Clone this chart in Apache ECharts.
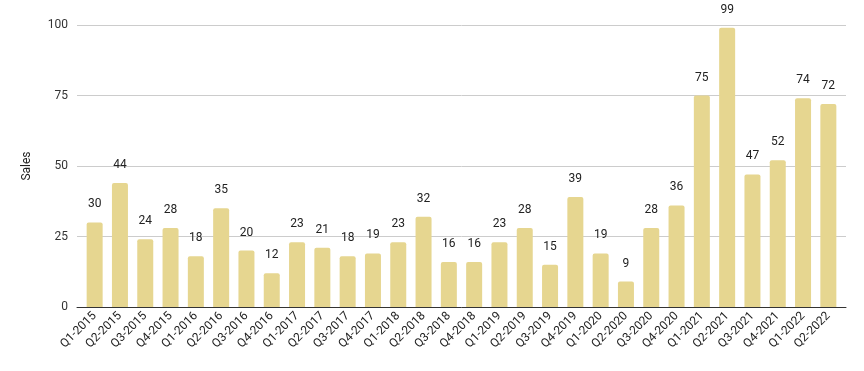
<!DOCTYPE html>
<html>
<head>
<meta charset="utf-8">
<script src="https://cdn.jsdelivr.net/npm/echarts@6/dist/echarts.min.js"></script>
<style>
  html, body { margin: 0; padding: 0; background: #fff; }
  #chart { width: 864px; height: 371px; }
</style>
</head>
<body>
<div id="chart"></div>
<script>
const quarters = [
  "Q1-2015", "Q2-2015", "Q3-2015", "Q4-2015",
  "Q1-2016", "Q2-2016", "Q3-2016", "Q4-2016",
  "Q1-2017", "Q2-2017", "Q3-2017", "Q4-2017",
  "Q1-2018", "Q2-2018", "Q3-2018", "Q4-2018",
  "Q1-2019", "Q2-2019", "Q3-2019", "Q4-2019",
  "Q1-2020", "Q2-2020", "Q3-2020", "Q4-2020",
  "Q1-2021", "Q2-2021", "Q3-2021", "Q4-2021",
  "Q1-2022", "Q2-2022"
];
const sales = [
  30, 44, 24, 28,
  18, 35, 20, 12,
  23, 21, 18, 19,
  23, 32, 16, 16,
  23, 28, 15, 39,
  19, 9, 28, 36,
  75, 99, 47, 52,
  74, 72
];
const yTicks = [0, 25, 50, 75, 100];

const chart = echarts.init(document.getElementById("chart"));

// grid 0 = gridlines + baseline (a bit wider), grid 1 = the bars
chart.setOption({
  animation: false,
  textStyle: { fontFamily: "Roboto" },
  grid: [
    { left: 77, right: 18, top: 25, bottom: 64 },
    { left: 82, right: 23, top: 25, bottom: 64 }
  ],
  xAxis: [
    {
      gridIndex: 0,
      type: "value",
      min: 0,
      max: 1,
      axisLine: { show: true, onZero: false, lineStyle: { color: "#333", width: 1 } },
      axisTick: { show: false },
      axisLabel: { show: false },
      splitLine: { show: false }
    },
    {
      gridIndex: 1,
      type: "category",
      data: quarters,
      axisLine: { show: false },
      axisTick: { show: false },
      axisLabel: { rotate: 45, color: "#222", fontSize: 12, interval: 0, margin: 7 }
    }
  ],
  yAxis: [
    {
      gridIndex: 0,
      type: "value",
      min: yTicks[0],
      max: yTicks[yTicks.length - 1],
      interval: 25,
      name: "Sales",
      nameLocation: "middle",
      nameGap: 44,
      nameTextStyle: { color: "#222", fontSize: 12 },
      axisLine: { show: false },
      axisTick: { show: false },
      axisLabel: { color: "#333", fontSize: 12, margin: 9 },
      splitLine: { lineStyle: { color: "#ccc" } }
    },
    {
      gridIndex: 1,
      type: "value",
      min: yTicks[0],
      max: yTicks[yTicks.length - 1],
      interval: 25,
      show: false,
      splitLine: { show: false }
    }
  ],
  series: [{
    type: "bar",
    xAxisIndex: 1,
    yAxisIndex: 1,
    data: sales,
    barWidth: 16,
    itemStyle: { color: "#e6d690", borderRadius: [2, 2, 0, 0] },
    label: { show: true, position: "top", distance: 12, color: "#222", fontSize: 12 }
  }]
});
</script>
</body>
</html>
